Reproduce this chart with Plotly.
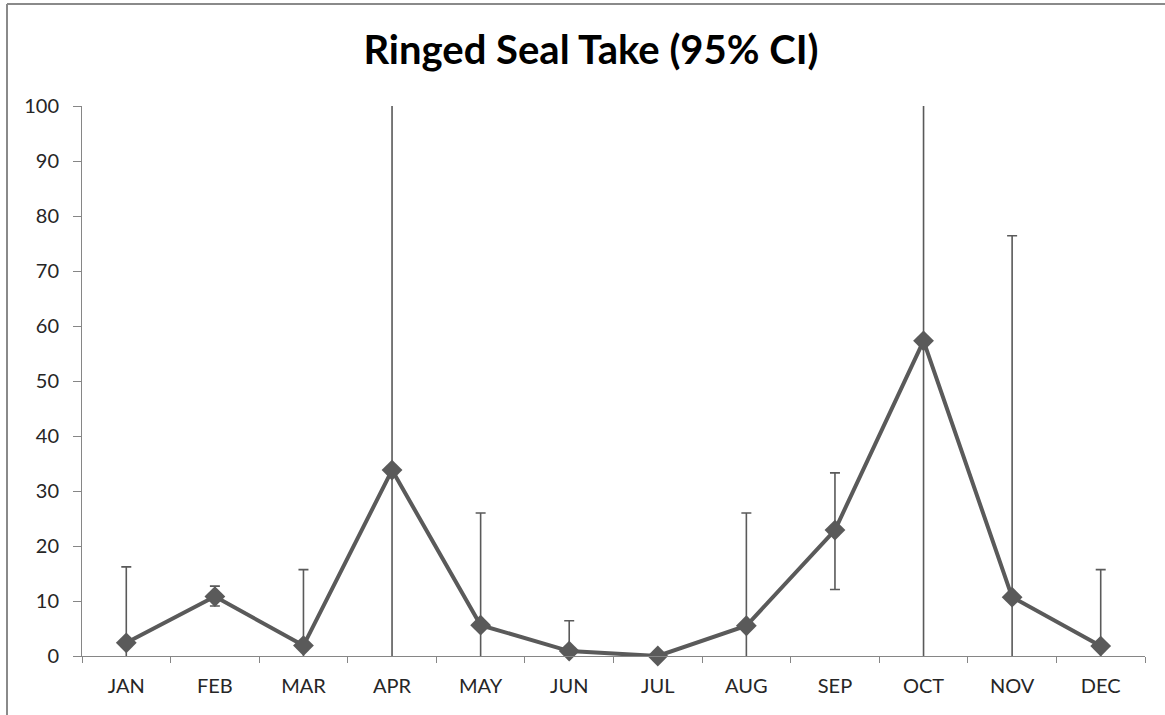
import plotly.graph_objects as go

# Monthly ringed seal take with 95% confidence limits
months = ["JAN", "FEB", "MAR", "APR", "MAY", "JUN", "JUL", "AUG", "SEP", "OCT", "NOV", "DEC"]
take = [2.4, 10.8, 1.9, 33.8, 5.6, 0.9, 0.0, 5.5, 22.9, 57.3, 10.7, 1.8]
ci_upper = [16.2, 12.7, 15.7, 130.0, 26.0, 6.4, None, 26.0, 33.3, 140.0, 76.4, 15.7]
ci_lower = [-11.0, 9.1, -12.0, -60.0, -15.0, -4.0, None, -15.0, 12.1, -25.0, -55.0, -12.0]

y_ticks = list(range(0, 101, 10))

err_plus = [None if u is None else u - t for u, t in zip(ci_upper, take)]
err_minus = [None if l is None else t - l for l, t in zip(ci_lower, take)]

GREY = "#5a5a5a"
AXIS = "#868686"
FONT = "Lato"

fig = go.Figure()

# confidence interval whiskers (clipped to the plotting area)
fig.add_trace(go.Scatter(
    x=months, y=take, mode="markers",
    marker=dict(size=1, color="rgba(0,0,0,0)"),
    error_y=dict(type="data", symmetric=False, array=err_plus, arrayminus=err_minus,
                 color=GREY, thickness=1.6, width=5),
    cliponaxis=True, hoverinfo="skip", showlegend=False,
))

# estimated take
fig.add_trace(go.Scatter(
    x=months, y=take, mode="lines+markers",
    line=dict(color=GREY, width=4),
    marker=dict(symbol="diamond", size=16, color=GREY),
    cliponaxis=False, showlegend=False,
))

fig.update_layout(
    width=1165, height=715,
    margin=dict(l=82, r=20, t=106, b=59),
    paper_bgcolor="white", plot_bgcolor="white",
    font=dict(family=FONT, size=20, color="#262626"),
    title=dict(text="<b>Ringed Seal Take (95% CI)</b>", x=591 / 1165, xanchor="center",
               y=1 - 50 / 715, yanchor="middle",
               font=dict(family=FONT, size=40, color="#000000")),
    xaxis=dict(type="category", range=[-0.5, 11.5], showline=True, linecolor=AXIS, linewidth=1,
               ticks="outside", tickson="boundaries", ticklen=6, tickcolor=AXIS,
               showgrid=False, zeroline=False, ticklabelstandoff=12),
    yaxis=dict(range=[0, 100], tickvals=y_ticks, showline=True, linecolor=AXIS, linewidth=1,
               ticks="outside", ticklen=8, tickcolor=AXIS, showgrid=False, zeroline=False,
               ticklabelstandoff=10),
    shapes=[
        dict(type="line", xref="paper", yref="paper", x0=(7 - 82) / 1063, x1=(7 - 82) / 1063,
             y0=-0.2, y1=(656 - 4) / 550, line=dict(color="#8a8a8a", width=2)),
        dict(type="line", xref="paper", yref="paper", x0=(7 - 82) / 1063, x1=1.1,
             y0=(656 - 4) / 550, y1=(656 - 4) / 550, line=dict(color="#8a8a8a", width=2)),
    ],
)

fig.write_html("out.html")
